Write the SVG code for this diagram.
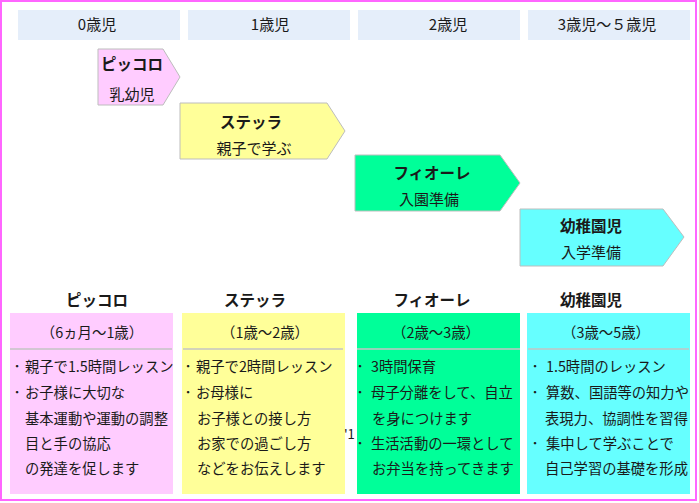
<svg xmlns="http://www.w3.org/2000/svg" width="699" height="503" viewBox="0 0 699 503">
<style>
text{font-family:"Noto Sans CJK JP","Noto Sans",sans-serif;fill:#1a1a1a}
.hd{fill:#E5EEFA}
.hdt{font-size:15px;text-anchor:middle}
.chev{stroke:#BDBDBD;stroke-width:1}
.ttl{font-size:15.5px;font-weight:bold;text-anchor:middle}
.sub{font-size:15px;text-anchor:middle}
.age{font-size:14.4px;text-anchor:middle}
.b{font-size:14.3px}
.dot{font-size:14.3px;text-anchor:middle}
.sep{stroke:#C4C4C4;stroke-width:1.5}
.pk{fill:#FFCCFF}.yl{fill:#FFFF99}.gr{fill:#00FF99}.cy{fill:#66FFFF}
</style>
<rect x="0" y="0" width="699" height="503" fill="#ffffff"/>
<rect x="1" y="1" width="695" height="499" fill="none" stroke="#FF66FF" stroke-width="2"/>

<g id="header-0">
<rect class="hd" x="18" y="10" width="162" height="30"/>
<text class="hdt" x="97" y="30">0歳児</text>
</g>
<g id="header-1">
<rect class="hd" x="188" y="10" width="162" height="30"/>
<text class="hdt" x="270" y="30">1歳児</text>
</g>
<g id="header-2">
<rect class="hd" x="358" y="10" width="162" height="30"/>
<text class="hdt" x="448" y="30">2歳児</text>
</g>
<g id="header-3">
<rect class="hd" x="528" y="10" width="162" height="30"/>
<text class="hdt" x="607" y="30">3歳児～５歳児</text>
</g>

<g id="connectors"></g>

<g id="arrow-piccolo">
<polygon class="chev pk" points="98,49 163,49 180,77 163,105 98,105"/>
<text class="ttl" x="132" y="70">ピッコロ</text>
<text class="sub" x="132" y="100">乳幼児</text>
</g>
<g id="arrow-stella">
<polygon class="chev yl" points="180,103 327,103 345,131 327,159 180,159"/>
<text class="ttl" x="251" y="128">ステッラ</text>
<text class="sub" x="254" y="154">親子で学ぶ</text>
</g>
<g id="arrow-fiore">
<polygon class="chev gr" points="355,155 500,155 520,183 500,211 355,211"/>
<text class="ttl" x="432" y="179">フィオーレ</text>
<text class="sub" x="429" y="205">入園準備</text>
</g>
<g id="arrow-kinder">
<polygon class="chev cy" points="520,209 663,209 684,237 663,266 520,266"/>
<text class="ttl" x="591" y="232">幼稚園児</text>
<text class="sub" x="591" y="258">入学準備</text>
</g>

<g id="detail-piccolo">
<text class="ttl" x="97" y="306">ピッコロ</text>
<rect class="pk" x="10" y="313" width="163" height="181"/>
<line class="sep" x1="10" y1="349" x2="172" y2="349"/>
<text class="age" x="92" y="338">（6ヵ月～1歳）</text>
<text class="dot" x="17" y="372">･</text>
<text class="b" x="25" y="372">親子で1.5時間レッスン</text>
<text class="dot" x="17" y="398">･</text>
<text class="b" x="25" y="398">お子様に大切な</text>
<text class="b" x="25" y="424">基本運動や運動の調整</text>
<text class="b" x="25" y="449">目と手の協応</text>
<text class="b" x="25" y="474">の発達を促します</text>
</g>

<g id="detail-stella">
<text class="ttl" x="255" y="306">ステッラ</text>
<rect class="yl" x="182" y="313" width="163" height="181"/>
<line class="sep" x1="183" y1="349" x2="343" y2="349"/>
<text class="age" x="265" y="338">（1歳～2歳）</text>
<text class="dot" x="188" y="372">･</text>
<text class="b" x="196" y="372">親子で2時間レッスン</text>
<text class="dot" x="188" y="398">･</text>
<text class="b" x="196" y="398">お母様に</text>
<text class="b" x="197" y="424">お子様との接し方</text>
<text class="b" x="197" y="449">お家での過ごし方</text>
<text class="b" x="197" y="474">などをお伝えします</text>
</g>

<text x="344" y="439" style="font-size:13px">'1</text>

<g id="detail-fiore">
<text class="ttl" x="432" y="306">フィオーレ</text>
<rect class="gr" x="357" y="313" width="163" height="181"/>
<line class="sep" x1="357" y1="349" x2="520" y2="349"/>
<text class="age" x="436" y="338">（2歳～3歳）</text>
<text class="dot" x="360" y="372">･</text>
<text class="b" x="371" y="372">3時間保育</text>
<text class="dot" x="360" y="398">･</text>
<text class="b" x="371" y="398">母子分離をして、自立</text>
<text class="b" x="372" y="424">を身につけます</text>
<text class="dot" x="360" y="449">･</text>
<text class="b" x="371" y="449">生活活動の一環として</text>
<text class="b" x="372" y="474">お弁当を持ってきます</text>
</g>

<g id="detail-kinder">
<text class="ttl" x="591" y="306">幼稚園児</text>
<rect class="cy" x="527" y="313" width="163" height="181"/>
<line class="sep" x1="528" y1="349" x2="689" y2="349"/>
<text class="age" x="606" y="338">（3歳～5歳）</text>
<text class="dot" x="535" y="372">･</text>
<text class="b" x="546" y="372">1.5時間のレッスン</text>
<text class="dot" x="535" y="398">･</text>
<text class="b" x="546" y="398">算数、国語等の知力や</text>
<text class="b" x="545" y="424">表現力、協調性を習得</text>
<text class="dot" x="535" y="449">･</text>
<text class="b" x="546" y="449">集中して学ぶことで</text>
<text class="b" x="545" y="474">自己学習の基礎を形成</text>
</g>
</svg>
